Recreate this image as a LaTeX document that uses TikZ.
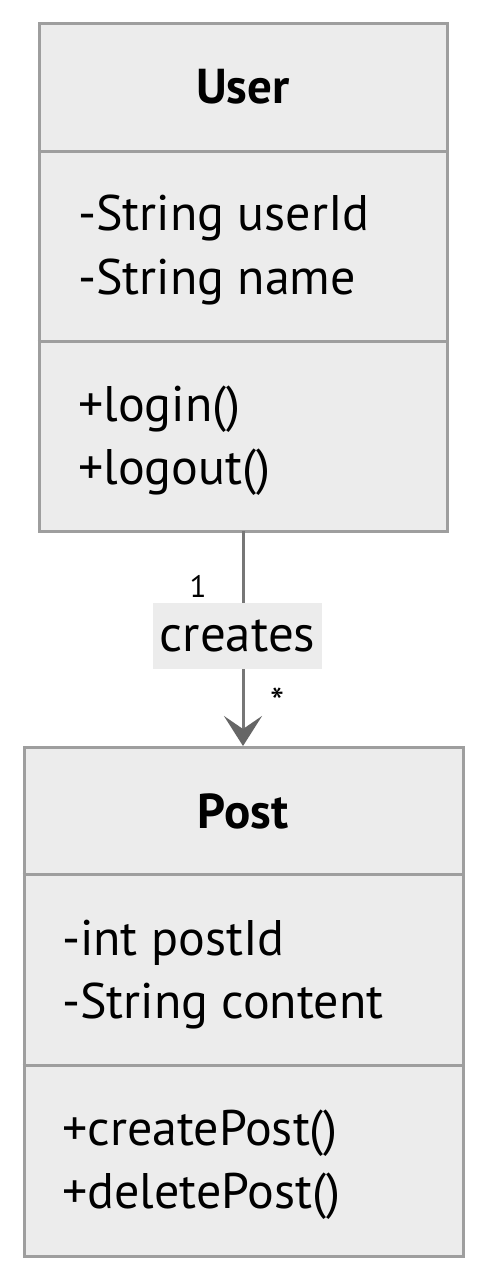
\documentclass[tikz,border=0pt]{standalone}
\usepackage{fontspec}
\setmainfont{PT Sans}
\usetikzlibrary{arrows.meta}
\definecolor{boxfill}{HTML}{ECECEC}
\definecolor{boxline}{HTML}{9E9E9E}
\definecolor{edgecol}{HTML}{777777}
\definecolor{tipcol}{HTML}{666666}
\begin{document}
\begin{tikzpicture}[x=1pt,y=-1pt,
  classbox/.style={draw=boxline, fill=boxfill, line width=3pt, rectangle, inner sep=0pt},
  divider/.style={draw=boxline, line width=3pt},
  member/.style={anchor=base west, inner sep=0pt, font=\fontsize{50}{60}\selectfont},
  title/.style={anchor=base, inner sep=0pt, font=\fontsize{49}{58}\selectfont\bfseries},
  mult/.style={anchor=base, inner sep=0pt, font=\fontsize{31}{36}\selectfont},
  assoc/.style={draw=edgecol, line width=3pt, -{Stealth[length=30pt,width=38pt,inset=13pt,color=tipcol]}},
  lbl/.style={fill=boxfill, inner sep=0pt, font=\fontsize{51}{60}\selectfont}]
\useasboundingbox (0,0) rectangle (486,1280);
\fill[white] (0,0) rectangle (486,1280);
% User class
\node[classbox, minimum width=408pt, minimum height=508pt] (user) at (243,277) {};
\draw[divider] (user.west |- 0,151) coordinate (ud1a) -- (user.east |- 0,151) coordinate (ud1b);
\draw[divider] (user.west |- 0,341) coordinate (ud2a) -- (user.east |- 0,341) coordinate (ud2b);
\node[title] (utitle) at (243,103) {User};
\node[member] (ua1) at (78,230) {-String userId};
\node[member] (ua2) at (78,294) {-String name};
\node[member] (um1) at (78,421) {+login()};
\node[member] (um2) at (78,484) {+logout()};
% Post class
\node[classbox, minimum width=439pt, minimum height=509pt] (post) at (243.5,1001.5) {};
\draw[divider] (post.west |- 0,874) coordinate (pd1a) -- (post.east |- 0,874) coordinate (pd1b);
\draw[divider] (post.west |- 0,1065) coordinate (pd2a) -- (post.east |- 0,1065) coordinate (pd2b);
\node[title] (ptitle) at (243,828) {Post};
\node[member] (pa1) at (62,955) {-int postId};
\node[member] (pa2) at (62,1018) {-String content};
\node[member] (pm1) at (62,1145) {+createPost()};
\node[member] (pm2) at (62,1208) {+deletePost()};
% association
\coordinate (ustart) at (243,531);
\coordinate (pend) at (243,746);
\draw[assoc] (ustart) -- (pend);
\node[lbl, minimum width=169pt, minimum height=66pt] (creates) at (237.5,636) {creates};
\node[mult] (m1) at (198,597) {1};
\node[mult, font=\fontsize{40}{44}\selectfont] (m2) at (278,716) {*};
\end{tikzpicture}
\end{document}
